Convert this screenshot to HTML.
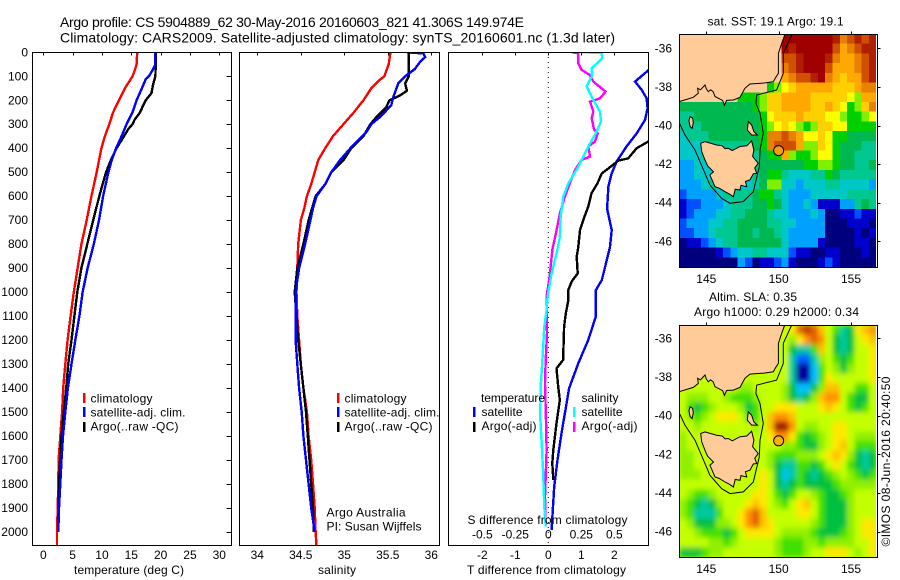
<!DOCTYPE html>
<html>
<head>
<meta charset="utf-8">
<title>Argo profile</title>
<style>
html,body{margin:0;padding:0;background:#fff;}
svg{display:block;}
text{font-family:"Liberation Sans",sans-serif;font-size:12px;fill:#000;}
</style>
</head>
<body>
<svg id="fig" xmlns="http://www.w3.org/2000/svg" width="900" height="580" viewBox="0 0 900 580">
<defs>
<clipPath id="clip-t"><rect x="32" y="52" width="199" height="493"/></clipPath>
<clipPath id="clip-s"><rect x="239" y="52" width="200" height="493"/></clipPath>
<clipPath id="clip-d"><rect x="448" y="52" width="200" height="493"/></clipPath>
<clipPath id="clip-m1"><rect x="679" y="34" width="197" height="233"/></clipPath>
<clipPath id="clip-m2"><rect x="679" y="325" width="197" height="232"/></clipPath>
<filter id="smooth" x="-5%" y="-5%" width="110%" height="110%"><feGaussianBlur stdDeviation="2.4 3"/></filter>
</defs>
<rect x="0" y="0" width="900" height="580" fill="#fff"/>
<g id="layer"></g>
<g>
<text x="60" y="27" style="font-size:14px" textLength="464">Argo profile: CS 5904889_62 30-May-2016 20160603_821 41.306S 149.974E</text>
<text x="60" y="42.5" style="font-size:14px" textLength="555">Climatology: CARS2009. Satellite-adjusted climatology: synTS_20160601.nc (1.3d later)</text>
</g>
<text x="74" y="574" textLength="110">temperature (deg C)</text>
<text x="318" y="574" textLength="38">salinity</text>
<text x="467" y="574" textLength="159">T difference from climatology</text>
<text x="467.5" y="524" textLength="160">S difference from climatology</text>

<g>
<rect x="83" y="393" width="2.5" height="10" fill="#f00"/>
<rect x="83" y="407" width="2.5" height="10" fill="#00f"/>
<rect x="83" y="422" width="2.5" height="10" fill="#000"/>
<text x="90.5" y="402.5" textLength="62">climatology</text>
<text x="90.5" y="416.5" textLength="95">satellite-adj. clim.</text>
<text x="90.5" y="430.5" textLength="88">Argo(..raw -QC)</text>
</g>
<g>
<rect x="337" y="393" width="2.5" height="10" fill="#f00"/>
<rect x="337" y="407" width="2.5" height="10" fill="#00f"/>
<rect x="337" y="422" width="2.5" height="10" fill="#000"/>
<text x="344.5" y="402.5" textLength="62">climatology</text>
<text x="344.5" y="416.5" textLength="95">satellite-adj. clim.</text>
<text x="344.5" y="430.5" textLength="88">Argo(..raw -QC)</text>
</g>
<text x="326.5" y="516.5" textLength="79">Argo Australia</text>
<text x="326.5" y="530.5" textLength="95">PI: Susan Wijffels</text>

<g>
<text x="481" y="402" textLength="64">temperature</text>
<text x="581.5" y="402" textLength="37">salinity</text>
<rect x="473" y="407" width="2.5" height="10" fill="#00f"/>
<rect x="473" y="422" width="2.5" height="10" fill="#000"/>
<rect x="573" y="407" width="2.5" height="10" fill="#0ff"/>
<rect x="573" y="422" width="2.5" height="10" fill="#f0f"/>
<text x="481.5" y="416" textLength="41">satellite</text>
<text x="481.5" y="430" textLength="55">Argo(-adj)</text>
<text x="581.5" y="416" textLength="41">satellite</text>
<text x="581.5" y="430" textLength="56">Argo(-adj)</text>
</g>

<text x="707.5" y="25.5" textLength="136">sat. SST: 19.1 Argo: 19.1</text>
<text x="709" y="301" textLength="88">Altim. SLA: 0.35</text>
<text x="694" y="316" textLength="165">Argo h1000: 0.29 h2000: 0.34</text>
<text transform="translate(890,546.5) rotate(-90)" x="0" y="0" textLength="170">©IMOS 08-Jun-2016 20:40:50</text>
</svg>
<script>
// ---------- profile data ----------
const tempRedDepth = [0,50,75,100,150,200,250,300,350,400,450,500,600,700,800,900,1000,1100,1200,1300,1400,1500,1600,1700,1800,1900,2000,2060];
const tempRed = [16.0,15.9,15.6,15.2,13.9,12.9,11.9,11.25,10.5,9.9,9.5,9.1,8.2,7.4,6.5,5.85,5.2,4.65,4.15,3.75,3.4,3.2,2.9,2.6,2.55,2.45,2.33,2.33];
const tempBlueDepth = [0,50,80,100,110,150,200,250,300,350,400,450,500,600,700,800,900,1000,1100,1200,1300,1400,1500,1600,1700,1800,1900,2000];
const tempBlue = [19.1,19.1,18.5,18.0,17.5,16.8,15.9,15.2,14.2,13.35,12.4,11.65,11.1,10.2,9.5,8.6,7.55,6.7,6.15,5.45,4.8,4.2,3.75,3.35,3.1,2.9,2.67,2.55];
const tempArgoDepth = [0,50,100,130,170,200,220,250,280,300,320,350,400,450,500,550,600,700,800,900,1000,1100,1200,1300,1400,1500,1600,1700,1800,1900,2000];
const tempArgo = [19.15,19.15,19.1,18.75,18.45,17.45,17.05,16.5,15.6,15.2,14.5,13.75,12.5,11.5,10.7,10.1,9.55,8.5,7.5,6.5,5.8,5.3,4.8,4.25,3.9,3.5,3.1,2.85,2.7,2.6,2.5];

const salRedDepth = [0,50,100,120,150,200,250,300,350,400,450,500,550,600,650,700,800,900,1000,1100,1200,1300,1400,1500,1600,1700,1800,1900,2000,2060];
const salRed = [35.53,35.51,35.46,35.39,35.31,35.22,35.11,34.99,34.87,34.78,34.70,34.66,34.62,34.57,34.54,34.50,34.47,34.46,34.45,34.46,34.48,34.50,34.53,34.57,34.59,34.62,34.64,34.66,34.67,34.68];
const salBlueDepth = [0,5,20,40,70,100,130,160,190,220,240,270,300,330,360,400,450,500,550,600,650,700,800,900,1000,1100,1200,1300,1400,1500,1600,1700,1800,1900,2000];
const salBlue = [35.72,35.91,35.93,35.87,35.81,35.70,35.62,35.59,35.56,35.54,35.49,35.41,35.31,35.26,35.18,35.07,34.95,34.85,34.78,34.68,34.64,34.61,34.55,34.48,34.44,34.44,34.44,34.46,34.48,34.51,34.53,34.56,34.59,34.62,34.66];
const salArgoDepth = [0,50,100,130,160,180,200,230,270,300,350,400,450,500,550,600,650,700,800,900,1000,1100,1200,1300,1400,1500,1600,1700,1800,1900,2000];
const salArgo = [35.74,35.74,35.74,35.70,35.72,35.64,35.52,35.48,35.37,35.30,35.22,35.08,34.99,34.85,34.78,34.67,34.63,34.59,34.53,34.46,34.43,34.45,34.47,34.50,34.53,34.56,34.58,34.60,34.62,34.64,34.65];

const diffTSatDepth = [0,50,75,122,157,192,234,282,338,393,456,505,560,630,658,741,811,895,950,992,1075,1102,1200,1297,1401,1589,1700,1811,1992];
const diffTSat = [3.1,3.2,3.03,2.63,2.83,2.98,3.01,2.93,2.68,2.37,2.07,1.92,1.82,1.79,1.79,1.92,1.87,1.72,1.62,1.44,1.44,1.44,1.21,0.91,0.63,0.40,0.28,0.18,0.10];
const diffTArgoDepth = [0,300,372,400,442,452,484,505,546,588,644,699,741,811,853,922,956,991,1033,1089,1144,1283,1318,1394,1450,1547,1658,1714,1783];
const diffTArgo = [3.2,3.9,3.03,2.68,2.42,2.12,1.82,1.62,1.49,1.31,1.21,1.06,0.96,0.91,0.86,0.89,0.71,0.61,0.61,0.53,0.48,0.45,0.25,0.30,0.35,0.25,0.15,0.12,0.15];
const diffSArgoDepth = [0,4,46,74,95,122,164,192,206,247,275,321,338,372,393,435,449,491,546,602,671,741,824,922,1019,1075,1172,1283,1380,1519,1658,1853,1978];
const diffSArgo = [0.18,0.227,0.227,0.253,0.316,0.341,0.434,0.391,0.316,0.341,0.329,0.346,0.374,0.354,0.303,0.316,0.253,0.202,0.164,0.126,0.088,0.063,0.03,0.013,-0.013,-0.013,-0.01,-0.02,-0.025,-0.018,-0.013,-0.025,-0.02];
const diffSSatDepth = [0,3,25,67,102,142,198,247,288,331,393,477,546,602,685,769,838,922,1019,1075,1144,1283,1380,1519,1630,1769,1894,1978];
const diffSSat = [0.253,0.404,0.409,0.328,0.328,0.29,0.341,0.391,0.399,0.366,0.303,0.227,0.152,0.114,0.093,0.088,0.063,0.025,-0.005,-0.013,-0.03,-0.045,-0.056,-0.061,-0.05,-0.038,-0.03,-0.02];

// ---------- tick labels ----------
const depthTicks = [0,100,200,300,400,500,600,700,800,900,1000,1100,1200,1300,1400,1500,1600,1700,1800,1900,2000];
const tempTicks = [0,5,10,15,20,25,30];
const salTicks = [34,34.5,35,35.5,36];
const diffTTicks = [-2,-1,0,1,2];
const diffSTicks = [-0.5,-0.25,0,0.25,0.5];
const lonTicks = [145,150,155];
const latTicks = [-36,-38,-40,-42,-44,-46];

// ---------- map grids (one char per 0.5 degree cell, '.' = land) ----------
const sstPalette = ['#00007f','#0000cd','#0050ff','#00a0ff','#00c8c8','#00c890','#00b850','#00d000','#80f000','#ffff00','#ffd000','#ffa800','#e88000','#d05000','#b02000','#a00000'];
const sstRows = [
"..............FFFFFFFECDEDE",
"..............FEFFFFFDBCDEE",
"..............DDEFFFECBBCDE",
"..............CDEFFFDBBBCDE",
"..............BCDDEFCBABBDE",
"............789ABBBBBAAABCC",
"........7778AABBBBAAAAA98BB",
"666666666678AABBBBAABA978AC",
"5566666666679AAABAAA9987789",
"55566666666789A9878AA997777",
"455566666667CCDCB99A9776666",
"444555555567CDDDB88A9766655",
"44455555555677B877899766555",
"334444444456666667788766556",
"334444444456775444557655555",
"333454444456884434445544443",
"233334555567754333444445555",
"122333455566764334311133565",
"123334455666544333430011211",
"233344556666554433330001110",
"223345556656654333330000101",
"011234556666664333310000110",
"000001234455444211001100010",
"000000003201123100012100000"
];
const slaPalette = ['#0000a0','#0060ff','#00c0ff','#00c8a0','#00c040','#40e000','#90f000','#c4ff00','#ffe800','#ffc000','#ff9000','#e06000','#c03000','#a00000'];
const slaRows = [
"..............78BCB9753489A",
"..............768ABA7434789",
"..............7433597434778",
"..............7311367545778",
".............77300257646778",
"............777300258777778",
"........6677776422469977557",
"76667765556777643469AA75447",
"754567776457788877789875457",
"7656788875579AA977777777777",
"7767777777679DDA76677887777",
"6777777777778AA854567887666",
"677777777777776654467897555",
"667777777777655566678986434",
"667777777777643355457875434",
"666777777778742354345676545",
"777777777778743454444566666",
"765567777788754577654456777",
"654346777898765789754446777",
"653335778AB9777788754446777",
"764446678AB9877777654446788",
"776555457888876666544456788",
"777766567777765556656666778",
"444566777777765556778887678"
];

// ---------- coastlines and isobath in lon/lat ----------
const mainlandLon = [143.13,144.10,144.45,144.40,144.60,144.91,145.00,145.14,145.30,145.48,145.60,146.13,146.25,146.40,146.87,147.33,147.67,148.02,149.00,149.63,149.80,149.98,149.98,150.21,150.44,143.13];
const mainlandLat = [-38.76,-38.54,-38.33,-38.07,-38.15,-37.90,-38.10,-38.25,-38.15,-38.25,-38.50,-38.71,-38.95,-38.70,-38.68,-38.54,-38.07,-37.85,-37.80,-37.73,-37.50,-37.30,-36.26,-35.74,-35.27,-35.27];
const tasLon = [144.61,144.91,145.71,146.10,146.30,146.52,146.80,147.33,147.80,148.13,148.29,148.20,148.59,148.35,148.48,148.25,148.02,147.70,147.79,147.40,147.33,147.00,146.87,146.60,146.29,145.90,145.60,145.25,145.50,145.10,144.91,144.68];
const tasLat = [-40.92,-40.84,-41.01,-41.05,-41.20,-41.18,-41.30,-41.09,-41.05,-40.80,-41.27,-41.60,-41.96,-42.20,-42.48,-42.50,-42.82,-42.90,-43.17,-43.10,-43.34,-43.30,-43.69,-43.55,-43.43,-43.25,-43.17,-42.56,-42.40,-42.10,-41.79,-41.35];
const kingLon = [143.88,144.05,144.10,144.02,143.88,143.80];
const kingLat = [-39.54,-39.62,-39.85,-40.15,-40.05,-39.75];
const flindersLon = [147.90,148.13,148.29,148.53,148.13,147.83];
const flindersLat = [-39.80,-39.97,-40.32,-40.49,-40.49,-40.23];
const isobathLon = [143.13,143.53,144.22,144.91,145.25,146.06,146.64,147.56,148.25,148.66,148.71,148.94,148.71,148.43,148.48,149.86,150.32,150.32,150.90];
const isobathLat = [-39.85,-40.49,-41.27,-42.48,-43.08,-43.77,-44.03,-43.94,-43.43,-42.13,-41.27,-40.40,-39.37,-38.85,-38.42,-38.16,-37.30,-36.26,-35.31];
const floatLon = [150.0];
const floatLat = [-41.3];

// ---------- axis functions ----------
const NS = 'http://www.w3.org/2000/svg';
const layer = document.getElementById('layer');
function mk(tag, parent) {
  const e = document.createElementNS(NS, tag);
  parent.appendChild(e);
  return e;
}
const yDepth = d => 52.3 + d * 0.2398;
const xTemp = v => 43.3 + v * 5.867;
const xSal = v => 257.3 + (v - 34) * 87;
const xDiffT = v => 548.3 + v * 33;
const xDiffS = v => 548.3 + v * 132;
const xLon = v => 706.3 + (v - 145) * 14.47;
const yLatA = v => 48.3 + (-36 - v) * 19.3;
const yLatB = v => 338.3 + (-36 - v) * 19.34;

function drawProfile(parent, clip, xf, depth, vals, color, name) {
  const pl = mk('polyline', parent);
  
  
  pl.setAttribute('points', vals.map((v, i) => xf(v).toFixed(1) + ',' + yDepth(depth[i]).toFixed(1)).join(' '));
  pl.setAttribute('fill', 'none');
  pl.setAttribute('stroke', color);
  pl.setAttribute('stroke-width', '2.4');
  pl.setAttribute('shape-rendering', 'crispEdges');
  pl.setAttribute('clip-path', 'url(#' + clip + ')');
}
function frame(parent, x, y, w, h, name) {
  const r = mk('rect', parent);
  
  
  r.setAttribute('x', x + 0.5);
  r.setAttribute('y', y + 0.5);
  r.setAttribute('width', w);
  r.setAttribute('height', h);
  r.setAttribute('fill', 'none');
  r.setAttribute('stroke', '#000');
}
function tick(parent, x1, y1, x2, y2) {
  const l = mk('line', parent);
  
  
  l.setAttribute('x1', Math.round(x1) + 0.5);
  l.setAttribute('y1', Math.round(y1) + 0.5);
  l.setAttribute('x2', Math.round(x2) + 0.5);
  l.setAttribute('y2', Math.round(y2) + 0.5);
  l.setAttribute('stroke', '#000');
}
function label(parent, x, y, anchor, str) {
  const t = mk('text', parent);
  
  
  t.setAttribute('x', x);
  t.setAttribute('y', y);
  t.setAttribute('text-anchor', anchor);
  t.textContent = str;
}
function panel(name) {
  const g = mk('g', layer);
  
  
  return g;
}

// ---------- temperature panel ----------
const p1 = panel('temperature-panel');
drawProfile(p1, 'clip-t', xTemp, tempRedDepth, tempRed, '#f00', 'temperature-climatology-line');
drawProfile(p1, 'clip-t', xTemp, tempArgoDepth, tempArgo, '#000', 'temperature-argo-line');
drawProfile(p1, 'clip-t', xTemp, tempBlueDepth, tempBlue, '#00f', 'temperature-satellite-line');
frame(p1, 32, 52, 199, 493, 'temperature-axes-frame');
depthTicks.forEach(d => {
  tick(p1, 226, yDepth(d), 231, yDepth(d));
  label(p1, 28, yDepth(d) + 4, 'end', String(d));
});
tempTicks.forEach(v => {
  tick(p1, xTemp(v), 52, xTemp(v), 55);
  label(p1, xTemp(v), 559, 'middle', String(v));
});

// ---------- salinity panel ----------
const p2 = panel('salinity-panel');
drawProfile(p2, 'clip-s', xSal, salRedDepth, salRed, '#f00', 'salinity-climatology-line');
drawProfile(p2, 'clip-s', xSal, salArgoDepth, salArgo, '#000', 'salinity-argo-line');
drawProfile(p2, 'clip-s', xSal, salBlueDepth, salBlue, '#00f', 'salinity-satellite-line');
frame(p2, 239, 52, 200, 493, 'salinity-axes-frame');
salTicks.forEach(v => {
  tick(p2, xSal(v), 52, xSal(v), 55);
  label(p2, xSal(v), 559, 'middle', String(v));
});

// ---------- difference panel ----------
const p3 = panel('difference-panel');
const zero = mk('line', p3);


zero.setAttribute('x1', xDiffT(0));
zero.setAttribute('x2', xDiffT(0));
zero.setAttribute('y1', 52);
zero.setAttribute('y2', 545);
zero.setAttribute('stroke', '#000');
zero.setAttribute('stroke-dasharray', '1 4');
drawProfile(p3, 'clip-d', xDiffT, diffTSatDepth, diffTSat, '#00f', 't-difference-satellite-line');
drawProfile(p3, 'clip-d', xDiffT, diffTArgoDepth, diffTArgo, '#000', 't-difference-argo-line');
drawProfile(p3, 'clip-d', xDiffS, diffSArgoDepth, diffSArgo, '#f0f', 's-difference-argo-line');
drawProfile(p3, 'clip-d', xDiffS, diffSSatDepth, diffSSat, '#0ff', 's-difference-satellite-line');
frame(p3, 448, 52, 200, 493, 'difference-axes-frame');
diffTTicks.forEach(v => {
  tick(p3, xDiffT(v), 52, xDiffT(v), 55);
  label(p3, xDiffT(v), 559, 'middle', String(v));
});
diffSTicks.forEach(v => {
  label(p3, xDiffS(v), 538.5, 'middle', String(v));
});

// ---------- maps ----------
function poly(parent, lons, lats, yf, fill, stroke, name) {
  const p = mk('polygon', parent);
  
  
  p.setAttribute('points', lons.map((v, i) => xLon(v).toFixed(1) + ',' + yf(lats[i]).toFixed(1)).join(' '));
  p.setAttribute('fill', fill);
  p.setAttribute('stroke', stroke);
}
function drawMap(name, rows, palette, yf, top, bottom, clip, blur, floatFill) {
  const g = panel(name);
  const body = mk('g', g);
  
  
  body.setAttribute('clip-path', 'url(#' + clip + ')');
  const bg = mk('rect', body);
  
  
  bg.setAttribute('x', 679);
  bg.setAttribute('y', top);
  bg.setAttribute('width', 197);
  bg.setAttribute('height', bottom - top);
  bg.setAttribute('fill', blur ? palette[7] : '#fff');
  const cells = mk('g', body);
  
  
  if (blur) cells.setAttribute('filter', 'url(#smooth)');
  const cw = 197 / 27;
  const ch = (bottom - top) / 24;
  rows.forEach((row, r) => {
    for (let c = 0; c < row.length; c++) {
      const ch0 = row[c];
      const fill = ch0 === '.' ? (blur ? palette[7] : '#ffcc99') : palette[parseInt(ch0, 16)];
      const cell = mk('rect', cells);
      
      
      cell.setAttribute('x', (679.3 + c * cw).toFixed(2));
      cell.setAttribute('y', (top + r * ch).toFixed(2));
      cell.setAttribute('width', (cw + 0.4).toFixed(2));
      cell.setAttribute('height', (ch + 0.4).toFixed(2));
      cell.setAttribute('fill', fill);
      cell.setAttribute('shape-rendering', 'crispEdges');
    }
  });
  poly(body, mainlandLon, mainlandLat, yf, '#ffcc99', '#000', 'mainland-australia');
  poly(body, tasLon, tasLat, yf, '#ffcc99', '#000', 'tasmania');
  poly(body, kingLon, kingLat, yf, '#ffcc99', '#000', 'king-island');
  poly(body, flindersLon, flindersLat, yf, '#ffcc99', '#000', 'flinders-island');
  const iso = mk('polyline', body);
  
  
  iso.setAttribute('points', isobathLon.map((v, i) => xLon(v).toFixed(1) + ',' + yf(isobathLat[i]).toFixed(1)).join(' '));
  iso.setAttribute('fill', 'none');
  iso.setAttribute('stroke', '#000');
  const fl = mk('circle', body);
  
  
  fl.setAttribute('cx', xLon(floatLon[0]));
  fl.setAttribute('cy', yf(floatLat[0]));
  fl.setAttribute('r', 5);
  fl.setAttribute('fill', floatFill);
  fl.setAttribute('stroke', '#000');
  frame(g, 679, top, 198, bottom - top, name + '-frame');
  lonTicks.forEach(v => {
    tick(g, xLon(v), top - 3, xLon(v), top);
    label(g, xLon(v), bottom + 16, 'middle', String(v));
  });
  latTicks.forEach(v => {
    tick(g, 877, yf(v), 880, yf(v));
    label(g, 672, yf(v) + 4, 'end', String(v));
  });
}
drawMap('sst-map', sstRows, sstPalette, yLatA, 34, 267, 'clip-m1', false, '#f0a000');
drawMap('sla-map', slaRows, slaPalette, yLatB, 325, 557, 'clip-m2', true, '#ffb000');
</script>
</body>
</html>
